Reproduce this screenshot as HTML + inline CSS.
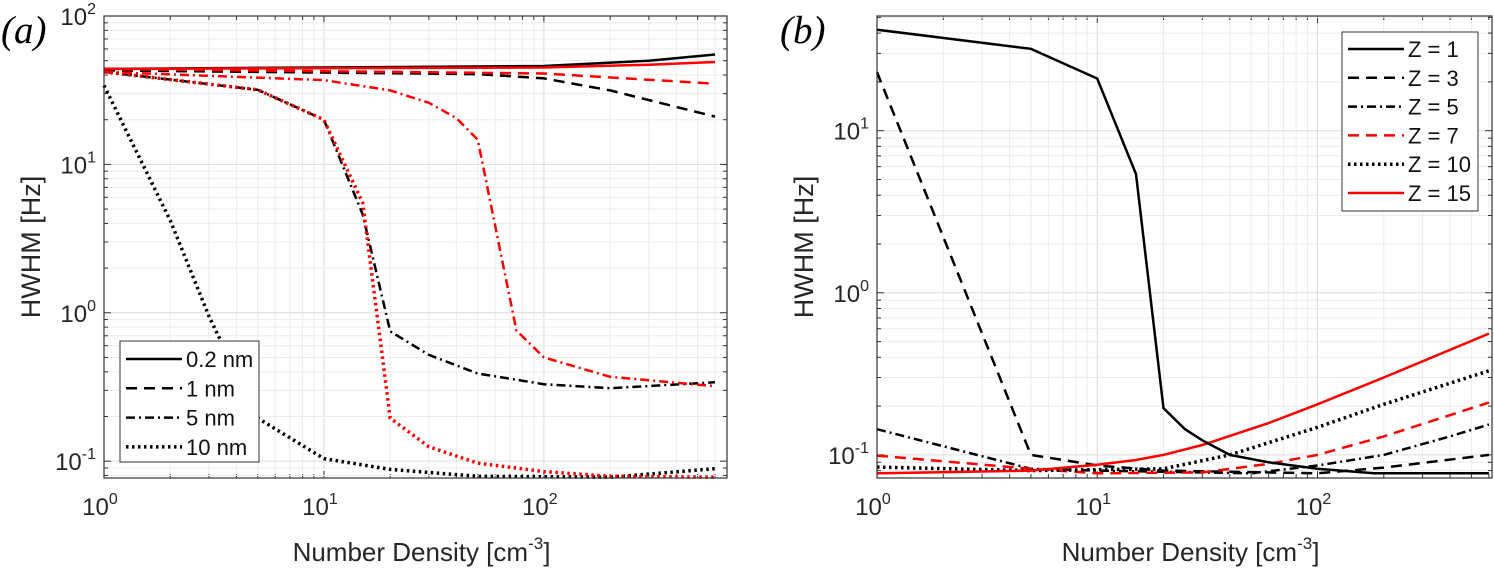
<!DOCTYPE html>
<html><head><meta charset="utf-8"><style>
body{margin:0;background:#fff;}
svg{display:block;font-family:"Liberation Sans",sans-serif;}
</style></head><body>
<svg id="fig" width="1494" height="569" viewBox="0 0 1494 569" xmlns="http://www.w3.org/2000/svg">
<text x="1" y="43" font-family="Liberation Serif,serif" font-style="italic" font-size="39">(a)</text>
<text x="780" y="43" font-family="Liberation Serif,serif" font-style="italic" font-size="39">(b)</text>
</svg>
<script>
// ---- Panel A data ----
const aNames = ["0.2 nm","1 nm","5 nm","10 nm"];
const aX_solidBlack = [1,100,300,600];
const aY_solidBlack = [44,46,50,55];
const aX_solidRed = [1,100,300,600];
const aY_solidRed = [44,45,47,49];
const aX_dashBlack = [1,50,100,200,600];
const aY_dashBlack = [43,40.6,38,31.5,21];
const aX_dashRed = [1,100,600];
const aY_dashRed = [44,41,35];
const aX_dashdotBlack = [1,5,10,15,20,30,50,100,200,600];
const aY_dashdotBlack = [42,31.8,20,4.6,0.75,0.52,0.39,0.33,0.31,0.34];
const aX_dashdotRed = [1,10,20,30,40,50,75,100,200,600];
const aY_dashdotRed = [42,37,31.5,26,20.5,14.7,0.76,0.5,0.37,0.32];
const aX_dotBlack = [1,2,3,5,10,20,50,200,600];
const aY_dotBlack = [34,4.2,0.95,0.195,0.104,0.088,0.079,0.078,0.089];
const aX_dotRed = [1,5,10,15,20,30,50,100,200,600];
const aY_dotRed = [42,31.8,20,5.5,0.195,0.125,0.097,0.085,0.079,0.078];
// ---- Panel B data ----
const bNames = ["Z = 1","Z = 3","Z = 5","Z = 7","Z = 10","Z = 15"];
const bX_z1 = [1,5,10,15,20,25,30,40,60,100,180,600];
const bY_z1 = [42,32,21,5.4,0.194,0.144,0.123,0.10,0.09,0.082,0.077,0.077];
const bX_z3 = [1,5,7,10,20,100,200,600];
const bY_z3 = [23,0.1,0.093,0.086,0.08,0.077,0.0835,0.1];
const bX_z5 = [1,5,10,50,100,200,400,600];
const bY_z5 = [0.144,0.082,0.080,0.077,0.086,0.10,0.13,0.154];
const bX_z7 = [1,5,10,30,60,100,200,600];
const bY_z7 = [0.099,0.082,0.077,0.078,0.088,0.1,0.13,0.21];
const bX_z10 = [1,5,20,40,100,200,600];
const bY_z10 = [0.084,0.08,0.082,0.10,0.148,0.205,0.33];
const bX_z15 = [1,5,10,15,20,30,60,100,200,600];
const bY_z15 = [0.077,0.08,0.087,0.093,0.10,0.115,0.157,0.205,0.3,0.56];
const xTickLabels = ["0","1","2"];

const NS="http://www.w3.org/2000/svg";
const svg=document.getElementById('fig');
function mk(tag,attrs,parent){const e=document.createElementNS(NS,tag);for(const k in attrs)e.setAttribute(k,attrs[k]);(parent||svg).appendChild(e);return e;}
const styles={solid:"",dash:"11 7",dashdot:"9 4 2 4",dot:"2.5 3.5"};

function panel(P){
  const g=mk('g',{});
  
  
  const L=P.l,R=P.r,T=P.t,B=P.b;
  const lx0=0,lx1=Math.log10(P.xmax),ly0=Math.log10(P.ymin),ly1=Math.log10(P.ymax);
  const X=v=>L+(Math.log10(v)-lx0)/(lx1-lx0)*(R-L);
  const Y=v=>B-(Math.log10(v)-ly0)/(ly1-ly0)*(B-T);
  const grid=mk('g',{},g);
  
  
  for(let d=0;d<=3;d++)for(let m=1;m<10;m++){const v=m*Math.pow(10,d);if(v>P.xmax)break;const x=X(v);
    mk('line',{x1:x,x2:x,y1:T,y2:B,stroke:m==1?'#dcdcdc':'#ececec','stroke-width':1},grid);
    const tl=m==1?7:4;mk('line',{x1:x,x2:x,y1:B,y2:B-tl,stroke:'#333','stroke-width':1},grid);mk('line',{x1:x,x2:x,y1:T,y2:T+tl,stroke:'#333','stroke-width':1},grid);}
  for(let d=-2;d<=2;d++)for(let m=1;m<10;m++){const v=m*Math.pow(10,d);if(v<P.ymin||v>P.ymax)continue;const y=Y(v);
    mk('line',{x1:L,x2:R,y1:y,y2:y,stroke:m==1?'#dcdcdc':'#ececec','stroke-width':1},grid);
    const tl=m==1?7:4;mk('line',{x1:L,x2:L+tl,y1:y,y2:y,stroke:'#333','stroke-width':1},grid);mk('line',{x1:R,x2:R-tl,y1:y,y2:y,stroke:'#333','stroke-width':1},grid);}
  P.series.forEach(s=>{
    const d=s.x.map((v,i)=>(i?'L':'M')+X(v).toFixed(1)+' '+Y(s.y[i]).toFixed(1)).join(' ');
    const p=mk('path',{d:d,fill:'none',stroke:s.c,'stroke-width':s.st=='dot'?3.5:2.5,'stroke-dasharray':styles[s.st]},g);
    
    
  });
  mk('rect',{x:L,y:T,width:R-L,height:B-T,fill:'none',stroke:'#333','stroke-width':1.2},g);
  xTickLabels.forEach((t,i)=>{const tx=mk('text',{x:X(Math.pow(10,i))-4,y:B+37,'text-anchor':'middle','font-size':24,fill:'#262626'},g);
    
    
    tx.innerHTML='10<tspan dy="-11" font-size="16">'+t+'</tspan>';});
  P.yt.forEach(e=>{const v=Math.pow(10,e);if(v<P.ymin||v>P.ymax*1.01)return;const tx=mk('text',{x:L-8,y:Y(v)+9,'text-anchor':'end','font-size':24,fill:'#262626'},g);
    
    
    tx.innerHTML='10<tspan dy="-11" font-size="16">'+e+'</tspan>';});
  const xt=mk('text',{x:(L+R)/2+6,y:561,'text-anchor':'middle','font-size':26,fill:'#262626'},g);
  
  
  xt.innerHTML='Number Density [cm<tspan dy="-12" font-size="17">-3</tspan><tspan dy="12">]</tspan>';
  const yx=L-64,yy=(T+B)/2;
  const yt=mk('text',{x:yx,y:yy,'text-anchor':'middle','font-size':27,fill:'#262626',transform:`rotate(-90 ${yx} ${yy})`},g);
  
  
  yt.textContent='HWHM [Hz]';
  const lg=mk('g',{},g);
  
  
  mk('rect',{x:P.lg.x,y:P.lg.y,width:P.lg.w,height:P.lg.h,fill:'#fff',stroke:'#333','stroke-width':1},lg);
  P.lg.items.forEach((it,i)=>{const y=P.lg.y0+i*P.lg.dy;
    const e=mk('g',{},lg);
    
    
    mk('line',{x1:P.lg.x+6,x2:P.lg.x+62,y1:y,y2:y,stroke:it.c,'stroke-width':it.st=='dot'?3.5:2.5,'stroke-dasharray':styles[it.st]},e);
    const t=mk('text',{x:P.lg.x+66,y:y+8,'font-size':22,fill:'#111'},e);t.textContent=it.t;});
}
panel({id:'panel-a',l:104,r:727,t:16,b:478,xmax:680,ymin:0.077,ymax:100,yt:[-1,0,1,2],
  series:[
    {name:'series-1nm-black',x:aX_dashBlack,y:aY_dashBlack,c:'#000',st:'dash'},
    {name:'series-1nm-red',x:aX_dashRed,y:aY_dashRed,c:'#f00',st:'dash'},
    {name:'series-5nm-black',x:aX_dashdotBlack,y:aY_dashdotBlack,c:'#000',st:'dashdot'},
    {name:'series-5nm-red',x:aX_dashdotRed,y:aY_dashdotRed,c:'#f00',st:'dashdot'},
    {name:'series-10nm-black',x:aX_dotBlack,y:aY_dotBlack,c:'#000',st:'dot'},
    {name:'series-10nm-red',x:aX_dotRed,y:aY_dotRed,c:'#f00',st:'dot'},
    {name:'series-0.2nm-black',x:aX_solidBlack,y:aY_solidBlack,c:'#000',st:'solid'},
    {name:'series-0.2nm-red',x:aX_solidRed,y:aY_solidRed,c:'#f00',st:'solid'}],
  lg:{x:120,y:341,w:139,h:121,y0:359,dy:29.3,items:[
    {t:aNames[0],c:'#000',st:'solid'},{t:aNames[1],c:'#000',st:'dash'},{t:aNames[2],c:'#000',st:'dashdot'},{t:aNames[3],c:'#000',st:'dot'}]}
});
panel({id:'panel-b',l:877,r:1492,t:16,b:478,xmax:620,ymin:0.072,ymax:51,yt:[-1,0,1],
  series:[
    {name:'series-z3',x:bX_z3,y:bY_z3,c:'#000',st:'dash'},
    {name:'series-z5',x:bX_z5,y:bY_z5,c:'#000',st:'dashdot'},
    {name:'series-z7',x:bX_z7,y:bY_z7,c:'#f00',st:'dash'},
    {name:'series-z10',x:bX_z10,y:bY_z10,c:'#000',st:'dot'},
    {name:'series-z15',x:bX_z15,y:bY_z15,c:'#f00',st:'solid'},
    {name:'series-z1',x:bX_z1,y:bY_z1,c:'#000',st:'solid'}],
  lg:{x:1342,y:32,w:136,h:179,y0:49,dy:28.8,items:[
    {t:bNames[0],c:'#000',st:'solid'},{t:bNames[1],c:'#000',st:'dash'},{t:bNames[2],c:'#000',st:'dashdot'},
    {t:bNames[3],c:'#f00',st:'dash'},{t:bNames[4],c:'#000',st:'dot'},{t:bNames[5],c:'#f00',st:'solid'}]}
});
</script>
</body></html>
